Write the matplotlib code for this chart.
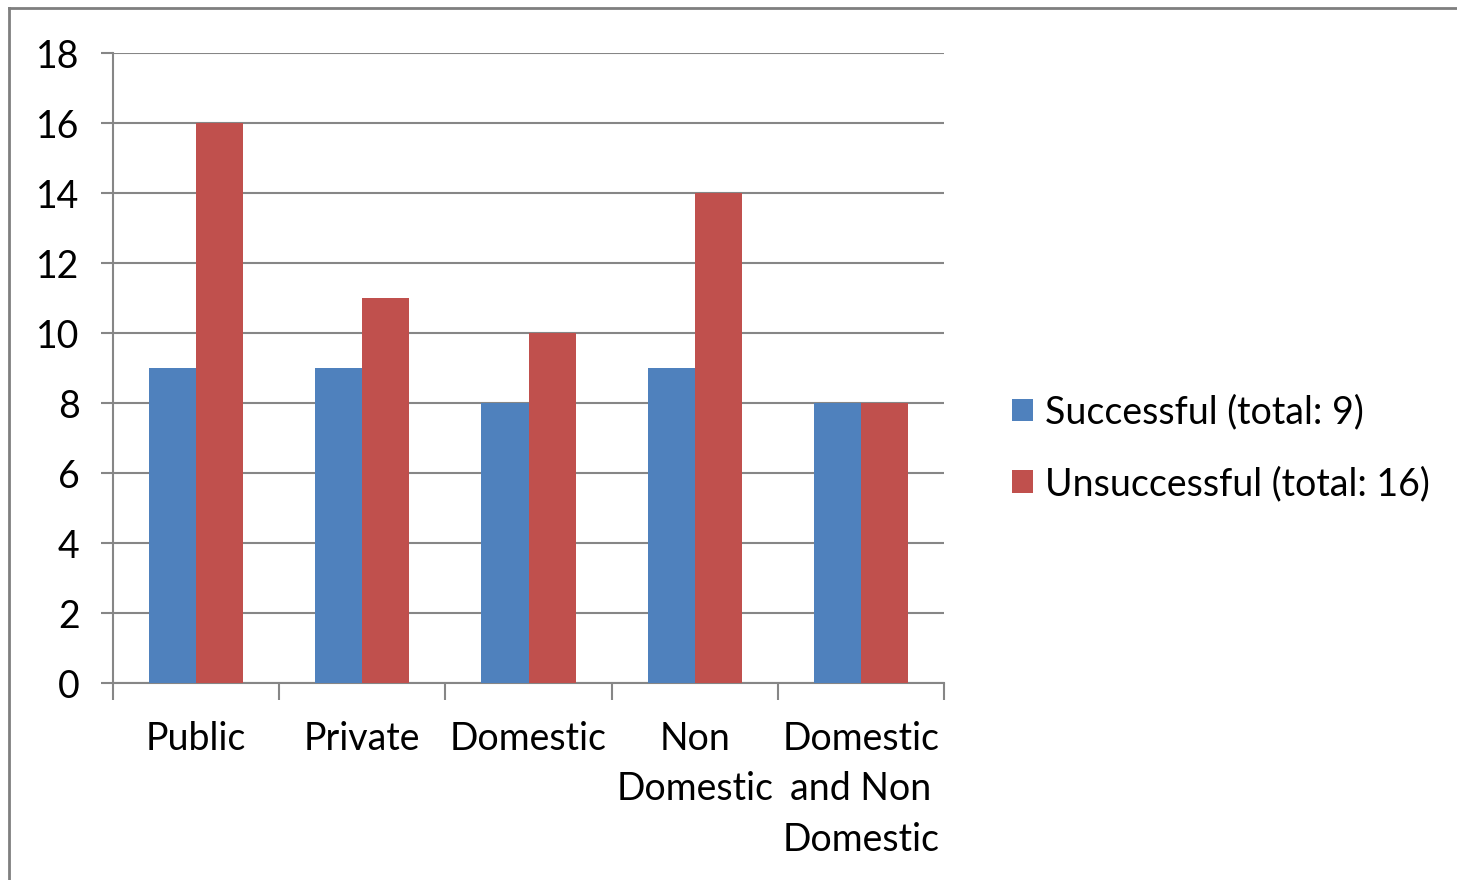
import numpy as np
import matplotlib
matplotlib.use("Agg")
import matplotlib.pyplot as plt
from matplotlib.patches import Patch
from matplotlib.lines import Line2D

categories = ["Public", "Private", "Domestic", "Non\nDomestic", "Domestic\nand Non\nDomestic"]
successful = [9, 9, 8, 9, 8]
unsuccessful = [16, 11, 10, 14, 8]
series_labels = ["Successful (total: 9)", "Unsuccessful (total: 16)"]
y_ticks = list(range(0, 19, 2))

blue = "#4F81BD"
red = "#C0504D"
gray = "#868686"

plt.rcParams["font.family"] = ["Lato", "DejaVu Sans"]
fs = 27

fig = plt.figure(figsize=(14.57, 8.8), dpi=100)
W, H = 1457, 880
ax = fig.add_axes([113 / W, 1 - 683 / H, (944 - 113) / W, (683 - 53) / H])

x = np.arange(len(categories))
bw = 0.283
ax.bar(x - bw / 2, successful, bw, color=blue, zorder=3)
ax.bar(x + bw / 2, unsuccessful, bw, color=red, zorder=3)

ax.set_xlim(-0.5, len(categories) - 0.5)
ax.set_ylim(0, 18)
ax.set_yticks(y_ticks)
ax.set_yticklabels([str(v) for v in y_ticks], fontsize=fs)
ax.yaxis.grid(True, color=gray, lw=1.5, zorder=0)
ax.tick_params(axis="y", length=9, width=1.5, color=gray, pad=15)

ax.set_xticks(x)
ax.set_xticklabels(categories, fontsize=fs, linespacing=1.5, va="top")
ax.tick_params(axis="x", length=0, pad=27)
ax.set_xticks(np.arange(-0.5, len(categories)), minor=True)
ax.tick_params(axis="x", which="minor", length=12, width=1.5, color=gray)

for s in ["top", "right"]:
    ax.spines[s].set_visible(False)
for s in ["left", "bottom"]:
    ax.spines[s].set_color(gray)
    ax.spines[s].set_linewidth(1.5)

handles = [Patch(facecolor=blue, label=series_labels[0]),
           Patch(facecolor=red, label=series_labels[1])]
fig.legend(handles=handles, loc="center left", bbox_to_anchor=(997 / W, 1 - 448 / H),
           frameon=False, fontsize=fs, handlelength=0.56, handleheight=0.56,
           handletextpad=0.32, labelspacing=0.95, borderaxespad=0)

# outer border
fig.add_artist(Line2D([9 / W, 9 / W], [0, 1 - 8 / H], transform=fig.transFigure, color="#7f7f7f", lw=2))
fig.add_artist(Line2D([9 / W, 1], [1 - 8 / H, 1 - 8 / H], transform=fig.transFigure, color="#7f7f7f", lw=2))

fig.savefig("out.png", dpi=100)
